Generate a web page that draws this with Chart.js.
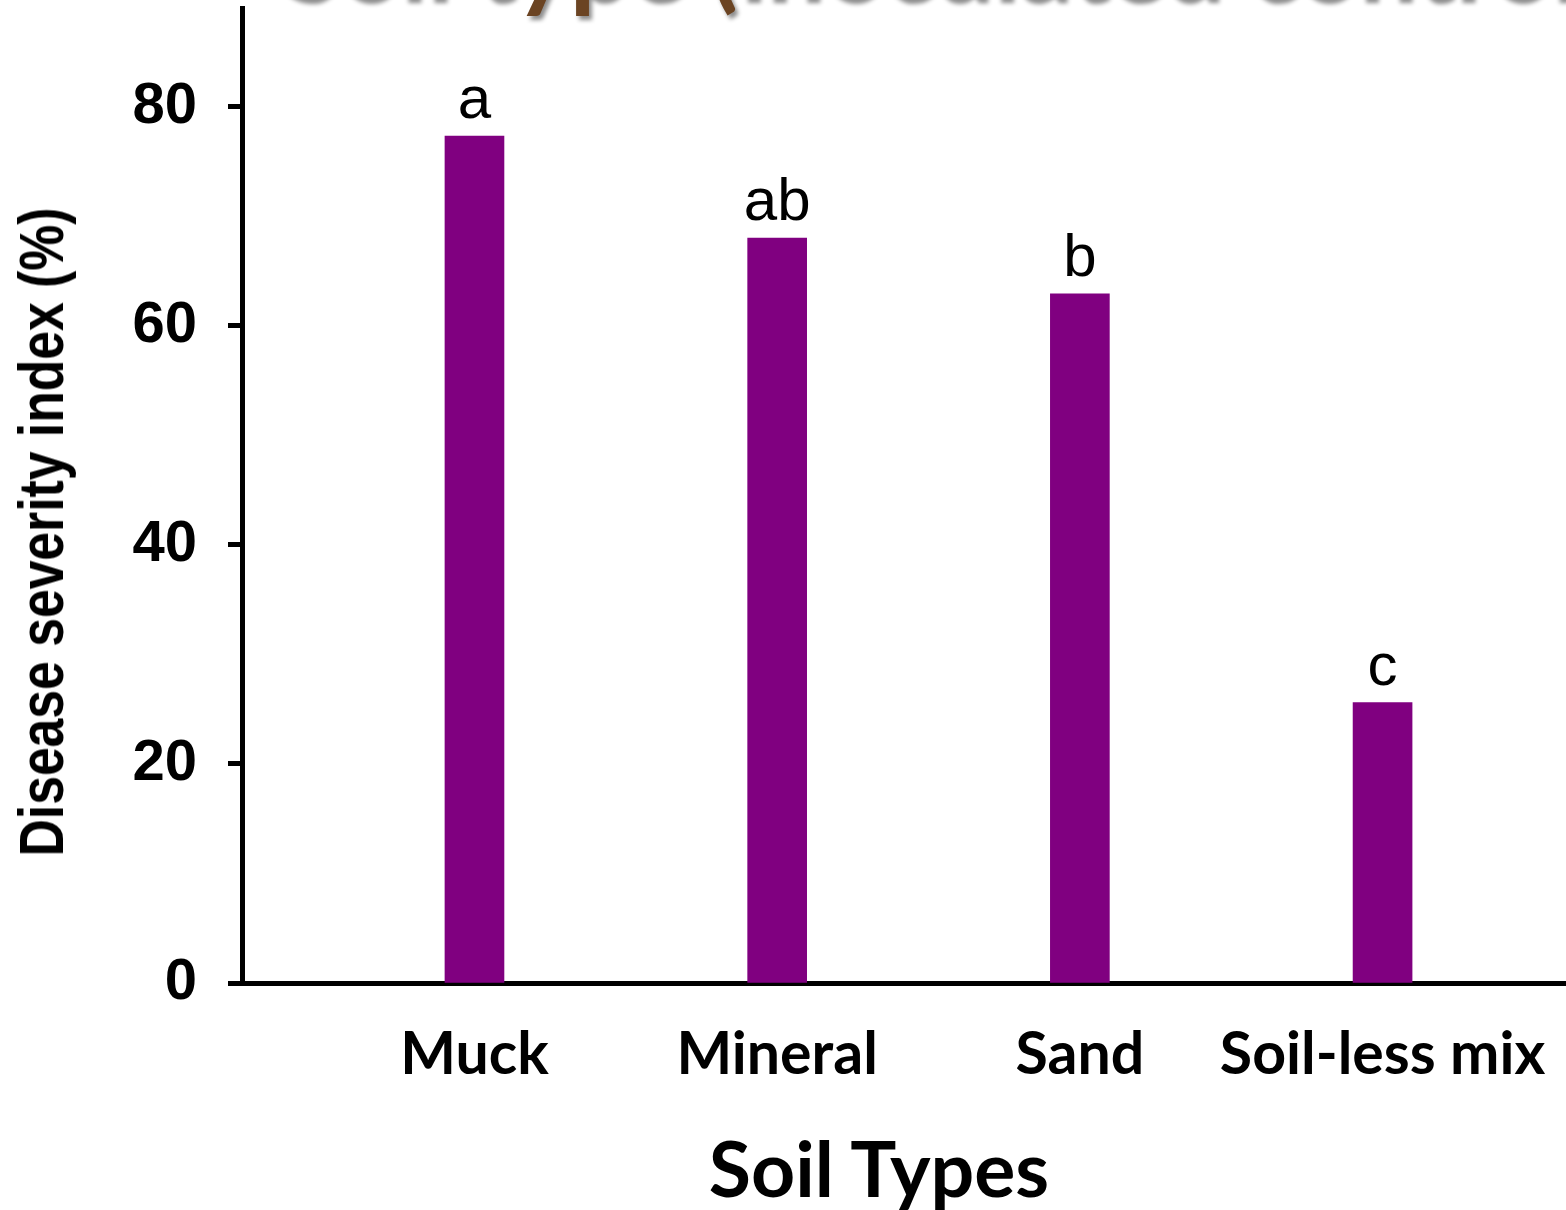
<!DOCTYPE html>
<html>
<head>
<meta charset="utf-8">
<script src="https://cdn.jsdelivr.net/npm/chart.js@4"></script>
<style>
  html, body { margin: 0; padding: 0; background: #fff; overflow: hidden; }
  #wrap { position: relative; width: 1566px; height: 1210px; }
  #chart { position: absolute; left: 0; top: 0; }
  .txt { position: absolute; white-space: nowrap; line-height: 1; color: #000; }
  #topTitle { left: 282px; top: -104px; font: bold 104px Lato, sans-serif; color: #6b4423;
              text-shadow: 3px 4px 4px rgba(0,0,0,0.45); }
  #yTitle { left: 41px; top: 532px; font: bold 63px "Liberation Sans", Arial, sans-serif;
            transform: translate(-50%, -50%) rotate(-90deg) scaleX(0.82); }
  #xTitle { left: 879px; top: 1167px; font: bold 77px Lato, sans-serif;
            transform: translate(-50%, -50%); }
</style>
</head>
<body>
<div id="wrap">
  <canvas id="chart" width="1566" height="1210"></canvas>
  <div class="txt" id="topTitle">Soil type (inoculated control)</div>
  <div class="txt" id="yTitle">Disease severity index (%)</div>
  <div class="txt" id="xTitle">Soil Types</div>
</div>
<script>
// valores
const soilTypes = ['Muck', 'Mineral', 'Sand', 'Soil-less mix'];
const severity = [77.3, 68.0, 62.9, 25.6];
const letters = ['a', 'ab', 'b', 'c'];
const yTicks = [0, 20, 40, 60, 80];

// letras de significancia encima de cada barra
const letterPlugin = {
  id: 'letters',
  afterDatasetsDraw(chart) {
    const ctx = chart.ctx;
    const bars = chart.getDatasetMeta(0).data;
    ctx.save();
    ctx.font = '60px "Liberation Sans", Arial, sans-serif';
    ctx.fillStyle = '#000';
    ctx.textAlign = 'center';
    ctx.textBaseline = 'alphabetic';
    bars.forEach((bar, i) => {
      ctx.fillText(letters[i], bar.x, bar.y - 18);
    });
    ctx.restore();
  }
};

const ctx = document.getElementById('chart').getContext('2d');
new Chart(ctx, {
  type: 'bar',
  data: {
    datasets: [{
      data: severity.map((v, i) => ({ x: i + 1, y: v })),
      backgroundColor: '#800080',
      borderWidth: 0,
      barThickness: 59
    }]
  },
  options: {
    responsive: false,
    animation: false,
    devicePixelRatio: 1,
    layout: { padding: { top: 8, right: 0, bottom: 0, left: 0 } },
    plugins: {
      legend: { display: false },
      tooltip: { enabled: false }
    },
    scales: {
      x: {
        type: 'linear',
        offset: false,
        min: 0.232,
        max: 4.606,
        afterBuildTicks: s => { s.ticks = soilTypes.map((c, i) => ({ value: i + 1 })); },
        afterFit: s => { s.height = 227; s.paddingLeft = 0; s.paddingRight = 0; },
        ticks: {
          callback: v => soilTypes[v - 1],
          color: '#000',
          font: { family: 'Lato', size: 59, weight: 'bold' },
          padding: 37,
          maxRotation: 0,
          autoSkip: false
        },
        grid: { display: false, drawTicks: false, offset: false },
        border: { display: true, color: '#000', width: 5 }
      },
      y: {
        min: 0,
        max: 89,
        afterBuildTicks: s => { s.ticks = yTicks.map(v => ({ value: v })); },
        afterFit: s => { s.width = 242; s.paddingTop = 0; s.paddingBottom = 0; },
        ticks: {
          color: '#000',
          font: { family: 'Liberation Sans', size: 58, weight: 'bold' },
          padding: 31
        },
        grid: {
          drawOnChartArea: false,
          drawTicks: true,
          tickLength: 14,
          tickWidth: 5,
          tickColor: '#000'
        },
        border: { display: true, color: '#000', width: 5 }
      }
    }
  },
  plugins: [letterPlugin]
});
</script>
</body>
</html>
